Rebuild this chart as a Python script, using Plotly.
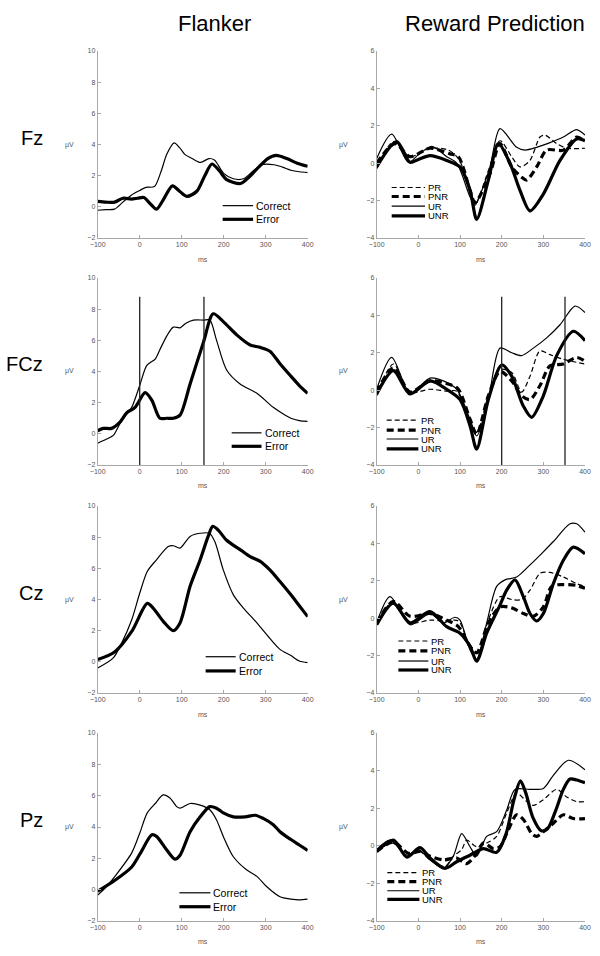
import plotly.graph_objects as go

# ---------------- Flanker (Correct / Error), µV by ms ----------------
fz_correct_t = [-100, -80, -60, -40, -20, 0, 15, 35, 50, 65, 82, 95, 108, 125, 145, 165, 178, 200, 223, 247, 270, 290, 320, 340, 360, 380, 400]
fz_correct_v = [-0.22, -0.18, -0.15, 0.3, 0.75, 1.05, 1.25, 1.3, 2.2, 3.4, 4.1, 3.8, 3.35, 3.1, 2.85, 3.1, 3.0, 2.15, 1.8, 1.8, 2.3, 2.7, 2.7, 2.55, 2.35, 2.25, 2.2]
fz_error_t = [-100, -80, -60, -40, -20, -5, 10, 25, 40, 55, 78, 95, 112, 136, 155, 172, 190, 207, 240, 260, 285, 305, 325, 350, 375, 400]
fz_error_v = [0.35, 0.3, 0.3, 0.55, 0.5, 0.55, 0.6, 0.2, -0.15, 0.4, 1.35, 1.0, 0.67, 1.0, 2.0, 2.75, 2.3, 1.75, 1.5, 1.9, 2.6, 3.1, 3.3, 3.1, 2.8, 2.6]

fcz_correct_t = [-100, -80, -63, -47, -30, -19, 0, 17, 37, 48, 65, 80, 96, 110, 128, 152, 167, 183, 207, 239, 279, 318, 340, 360, 380, 400]
fcz_correct_v = [-0.6, -0.35, -0.1, 0.65, 1.3, 1.7, 3.1, 4.4, 4.8, 5.4, 6.3, 6.85, 6.8, 7.1, 7.3, 7.3, 7.3, 6.0, 4.1, 3.2, 2.6, 1.7, 1.3, 1.0, 0.85, 0.8]
fcz_error_t = [-100, -87, -67, -47, -31, -11, 13, 29, 48, 65, 80, 96, 120, 152, 175, 199, 231, 263, 287, 310, 334, 360, 380, 400]
fcz_error_v = [0.2, 0.35, 0.35, 0.75, 1.35, 1.7, 2.65, 2.15, 1.0, 1.0, 1.0, 1.2, 3.2, 5.9, 7.7, 7.2, 6.35, 5.7, 5.55, 5.3, 4.5, 3.7, 3.1, 2.6]

cz_correct_t = [-100, -63, -43, -19, 0, 18, 40, 68, 80, 96, 120, 144, 166, 179, 199, 223, 247, 279, 310, 334, 360, 380, 400]
cz_correct_v = [-0.4, 0.25, 1.2, 2.7, 4.4, 5.8, 6.55, 7.4, 7.45, 7.3, 8.05, 8.25, 8.25, 7.7, 5.9, 4.3, 3.45, 2.5, 1.5, 0.8, 0.4, 0.05, -0.05]
cz_error_t = [-100, -59, -19, 18, 32, 56, 80, 96, 120, 144, 163, 174, 187, 207, 239, 263, 287, 310, 334, 360, 380, 400]
cz_error_v = [0.15, 0.65, 1.95, 3.75, 3.45, 2.6, 2.0, 2.5, 4.85, 6.55, 8.05, 8.7, 8.45, 7.8, 7.2, 6.75, 6.45, 5.9, 5.15, 4.3, 3.6, 2.9]

pz_correct_t = [-100, -79, -59, -19, 0, 18, 37, 56, 72, 88, 96, 120, 144, 167, 183, 199, 223, 255, 279, 302, 334, 360, 380, 400]
pz_correct_v = [-0.35, 0.2, 0.85, 2.35, 3.6, 4.9, 5.5, 6.05, 5.85, 5.3, 5.2, 5.5, 5.4, 5.1, 4.45, 3.4, 2.1, 1.25, 0.85, 0.2, -0.45, -0.6, -0.65, -0.6]
pz_error_t = [-100, -59, -19, 1, 29, 40, 64, 84, 96, 120, 144, 167, 183, 199, 223, 251, 275, 294, 318, 334, 360, 380, 400]
pz_error_v = [-0.1, 0.6, 1.45, 2.3, 3.5, 3.4, 2.55, 1.95, 2.2, 3.7, 4.65, 5.3, 5.2, 4.9, 4.65, 4.65, 4.75, 4.55, 4.15, 3.7, 3.2, 2.85, 2.5]

# ---------------- Reward Prediction (PR / PNR / UR / UNR) ----------------
rfz_pr_t = [-100, -60, -20, 28, 72, 96, 124, 136, 168, 196, 224, 244, 268, 292, 304, 332, 356, 400]
rfz_pr_v = [-0.3, 1.15, 0.35, 0.8, 0.7, 0.25, -1.3, -2.2, -0.4, 1.2, 0.35, -0.2, 0.15, 1.4, 1.5, 1.05, 0.8, 0.8]
rfz_pnr_t = [-100, -56, -20, 28, 76, 96, 124, 136, 172, 196, 224, 248, 260, 284, 308, 348, 380, 400]
rfz_pnr_v = [0.0, 1.05, 0.35, 0.8, 0.5, 0.35, -1.45, -2.1, -0.55, 1.05, -0.2, -0.75, -0.9, -0.2, 0.7, 0.7, 1.4, 1.15]
rfz_ur_t = [-100, -64, -24, 0, 32, 68, 92, 124, 136, 155, 172, 196, 236, 256, 284, 316, 348, 380, 400]
rfz_ur_v = [0.25, 1.55, 0.05, 0.45, 0.9, 0.35, 0.0, -1.8, -2.25, -1.3, -0.2, 1.85, 0.85, 0.7, 0.85, 1.1, 1.4, 1.8, 1.5]
rfz_unr_t = [-100, -52, -20, 0, 28, 68, 100, 124, 140, 168, 192, 220, 244, 268, 300, 340, 380, 400]
rfz_unr_v = [-0.2, 1.15, 0.05, 0.2, 0.4, 0.15, -0.2, -1.45, -3.0, -0.9, 1.05, 0.0, -1.45, -2.55, -1.65, 0.15, 1.3, 1.2]

rfcz_pr_t = [-100, -60, -20, 28, 68, 92, 124, 140, 168, 196, 224, 248, 268, 292, 316, 348, 400]
rfcz_pr_v = [-0.3, 1.4, -0.1, 0.05, -0.05, -0.05, -1.7, -2.25, -0.3, 1.1, 0.95, -0.1, 0.75, 2.1, 1.9, 1.65, 1.4]
rfcz_pnr_t = [-100, -60, -20, 28, 76, 96, 124, 140, 168, 196, 224, 248, 268, 292, 316, 348, 380, 400]
rfcz_pnr_v = [-0.1, 1.2, -0.1, 0.5, 0.3, 0.05, -1.55, -2.35, -0.3, 1.0, 0.5, -0.3, -0.5, 0.25, 1.3, 1.4, 1.75, 1.55]
rfcz_ur_t = [-100, -64, -20, 28, 60, 92, 124, 140, 168, 196, 224, 248, 276, 308, 340, 376, 400]
rfcz_ur_v = [0.05, 1.75, -0.15, 0.65, 0.5, 0.05, -1.55, -2.45, -0.5, 2.25, 2.0, 1.85, 2.25, 2.8, 3.5, 4.5, 4.15]
rfcz_unr_t = [-100, -60, -20, 28, 68, 100, 124, 140, 168, 200, 224, 252, 272, 300, 332, 372, 400]
rfcz_unr_v = [-0.2, 1.05, -0.2, 0.5, 0.05, -0.5, -1.9, -3.15, -0.5, 1.35, 0.75, -0.85, -1.45, -0.3, 1.85, 3.15, 2.65]

rcz_pr_t = [-100, -64, -20, 28, 60, 96, 124, 144, 168, 196, 224, 248, 268, 292, 316, 348, 380, 400]
rcz_pr_v = [-0.25, 0.8, -0.25, -0.1, -0.15, -0.15, -1.5, -1.85, -0.1, 1.15, 1.0, 1.0, 1.5, 2.4, 2.45, 2.2, 1.85, 1.7]
rcz_pnr_t = [-100, -60, -20, 28, 68, 96, 124, 140, 168, 196, 224, 252, 276, 300, 320, 348, 380, 400]
rcz_pnr_v = [-0.25, 0.9, 0.1, 0.25, -0.1, -0.45, -1.5, -1.85, -0.25, 0.6, 0.55, 0.25, 0.1, 0.6, 1.7, 1.8, 1.75, 1.6]
rcz_ur_t = [-100, -68, -20, 28, 60, 88, 100, 124, 140, 164, 188, 208, 236, 268, 300, 324, 364, 380, 400]
rcz_ur_v = [-0.25, 1.15, -0.35, 0.25, -0.25, 0.05, -0.1, -1.7, -2.2, -0.25, 1.7, 2.05, 2.2, 2.85, 3.55, 4.1, 5.05, 5.05, 4.6]
rcz_unr_t = [-100, -60, -20, 28, 68, 100, 124, 140, 164, 196, 212, 232, 252, 268, 284, 300, 324, 348, 372, 400]
rcz_unr_v = [-0.35, 0.8, -0.25, 0.35, -0.45, -0.8, -1.5, -2.3, -0.8, 0.7, 1.5, 2.05, 1.15, 0.25, -0.15, 0.25, 1.85, 3.1, 3.8, 3.45]

rpz_pr_t = [-100, -64, -24, 4, 28, 64, 84, 104, 116, 140, 164, 188, 212, 236, 260, 276, 300, 332, 356, 380, 400]
rpz_pr_v = [-0.3, 0.15, -0.4, -0.3, -0.75, -1.1, -0.55, -0.2, 0.3, -0.05, 0.15, 0.5, 1.75, 2.8, 2.35, 2.15, 2.45, 3.0, 2.6, 2.35, 2.35]
rpz_pnr_t = [-100, -60, -24, 4, 28, 60, 92, 116, 140, 156, 180, 196, 212, 236, 252, 272, 284, 300, 324, 348, 372, 400]
rpz_pnr_v = [-0.3, 0.2, -0.4, -0.3, -0.55, -0.75, -0.65, -0.95, -0.4, 0.15, -0.15, -0.05, 0.65, 1.65, 1.4, 0.65, 0.5, 0.75, 1.2, 1.65, 1.45, 1.45]
rpz_ur_t = [-100, -68, -28, 0, 28, 60, 84, 104, 124, 140, 164, 188, 212, 232, 268, 300, 324, 360, 400]
rpz_ur_v = [-0.2, 0.3, -0.5, -0.2, -0.75, -1.2, -0.55, 0.65, -0.05, -0.55, 0.5, 0.75, 1.9, 3.0, 3.0, 3.05, 3.75, 4.55, 4.05]
rpz_unr_t = [-100, -60, -28, 4, 28, 64, 92, 124, 156, 188, 210, 230, 245, 258, 275, 295, 310, 330, 348, 364, 380, 400]
rpz_unr_v = [-0.3, 0.3, -0.6, -0.1, -0.65, -1.2, -0.85, -0.5, -0.15, -0.35, 0.6, 2.5, 3.45, 2.8, 1.5, 0.8, 0.9, 1.9, 3.0, 3.55, 3.5, 3.35]

# marker lines in the FCz row (ms)
flanker_marks = [0, 153]
reward_marks = [200, 352]

electrodes = ["Fz", "FCz", "Cz", "Pz"]
flanker_names = ["Correct", "Error"]
reward_names = ["PR", "PNR", "UR", "UNR"]

flanker_data = [
    [(fz_correct_t, fz_correct_v), (fz_error_t, fz_error_v)],
    [(fcz_correct_t, fcz_correct_v), (fcz_error_t, fcz_error_v)],
    [(cz_correct_t, cz_correct_v), (cz_error_t, cz_error_v)],
    [(pz_correct_t, pz_correct_v), (pz_error_t, pz_error_v)],
]
reward_data = [
    [(rfz_pr_t, rfz_pr_v), (rfz_pnr_t, rfz_pnr_v), (rfz_ur_t, rfz_ur_v), (rfz_unr_t, rfz_unr_v)],
    [(rfcz_pr_t, rfcz_pr_v), (rfcz_pnr_t, rfcz_pnr_v), (rfcz_ur_t, rfcz_ur_v), (rfcz_unr_t, rfcz_unr_v)],
    [(rcz_pr_t, rcz_pr_v), (rcz_pnr_t, rcz_pnr_v), (rcz_ur_t, rcz_ur_v), (rcz_unr_t, rcz_unr_v)],
    [(rpz_pr_t, rpz_pr_v), (rpz_pnr_t, rpz_pnr_v), (rpz_ur_t, rpz_ur_v), (rpz_unr_t, rpz_unr_v)],
]

# styles
W, H = 600, 956
FONT = "Liberation Sans"
flanker_styles = [dict(width=1.2, dash="solid"), dict(width=3.2, dash="solid")]
reward_styles = [dict(width=1.2, dash="5px,3px"), dict(width=3.2, dash="7px,4px"),
                 dict(width=1.2, dash="solid"), dict(width=3.2, dash="solid")]

col_x = [(97.7, 307.7), (376.7, 585.0)]
row_y = [(51, 238), (278, 465), (506, 693), (733, 921)]

# legend placement in axis-domain units: (x0, x1, [y per entry])
flanker_leg = [(0.595, 0.74, [0.173, 0.10]), (0.638, 0.78, [0.172, 0.10]),
               (0.514, 0.657, [0.194, 0.118]), (0.389, 0.537, [0.15, 0.076])]
reward_leg = [(0.072, 0.232, [0.27, 0.222, 0.17, 0.118]), (0.048, 0.20, [0.24, 0.187, 0.139, 0.086]),
              (0.104, 0.248, [0.278, 0.225, 0.171, 0.123]), (0.051, 0.205, [0.257, 0.209, 0.161, 0.115])]

fig = go.Figure()
layout = {}
shapes = []
annotations = []

for r in range(4):
    for c in range(2):
        n = r * 2 + c + 1
        xa = "x" if n == 1 else f"x{n}"
        ya = "y" if n == 1 else f"y{n}"
        x0, x1 = col_x[c]
        top, bot = row_y[r]
        yr = [-2, 10] if c == 0 else [-4, 6]
        axis_common = dict(showline=True, linecolor="#a8a8a8", linewidth=1, ticks="inside", ticklen=3,
                           tickcolor="#a8a8a8", showgrid=False, zeroline=False, automargin=False,
                           tickfont=dict(size=7, color="#555", family=FONT))
        layout["xaxis" if n == 1 else f"xaxis{n}"] = dict(
            domain=[x0 / W, x1 / W], range=[-100, 400], tickvals=[-100, 0, 100, 200, 300, 400],
            anchor=ya, **axis_common)
        layout["yaxis" if n == 1 else f"yaxis{n}"] = dict(
            domain=[1 - bot / H, 1 - top / H], range=yr, tick0=0, dtick=2, anchor=xa, **axis_common)

        if c == 0:
            series, names, styles, leg = flanker_data[r], flanker_names, flanker_styles, flanker_leg[r]
        else:
            series, names, styles, leg = reward_data[r], reward_names, reward_styles, reward_leg[r]

        for (t, v), name, st in zip(series, names, styles):
            fig.add_trace(go.Scatter(x=t, y=v, mode="lines", name=name, showlegend=False,
                                     line=dict(color="black", width=st["width"], dash=st["dash"],
                                               shape="spline", smoothing=0.8),
                                     xaxis=xa, yaxis=ya))

        # legend samples
        lx0, lx1, lys = leg
        fsize = 10.5 if c == 0 else 9.5
        for name, st, ly in zip(names, styles, lys):
            shapes.append(dict(type="line", xref=f"{xa} domain", yref=f"{ya} domain",
                               x0=lx0, x1=lx1, y0=ly, y1=ly,
                               line=dict(color="black", width=st["width"], dash=st["dash"])))
            annotations.append(dict(text=name, xref=f"{xa} domain", yref=f"{ya} domain",
                                    x=lx1, y=ly, xanchor="left", yanchor="middle", xshift=2, borderpad=0,
                                    showarrow=False, font=dict(size=fsize, color="black", family=FONT)))

        # axis labels
        annotations.append(dict(text="ms", xref=f"{xa} domain", yref=f"{ya} domain", x=0.5, y=0,
                                xanchor="center", yanchor="middle", yshift=-21, showarrow=False,
                                font=dict(size=7, color="#555", family=FONT)))
        mu_x = 69 if c == 0 else 343.5
        annotations.append(dict(text="µV", xref="paper", yref=f"{ya} domain", x=mu_x / W, y=0.5,
                                xanchor="center", yanchor="middle", showarrow=False,
                                font=dict(size=7, color="#555", family=FONT)))

        # FCz marker lines
        if r == 1:
            marks = flanker_marks if c == 0 else reward_marks
            ytop = 8.8 if c == 0 else 5.0
            for m in marks:
                shapes.append(dict(type="line", xref=xa, yref=ya, x0=m, x1=m, y0=yr[0], y1=ytop,
                                   line=dict(color="#222", width=1.3)))

    # row label
    top, bot = row_y[r]
    annotations.append(dict(text=electrodes[r], xref="paper", yref="paper", x=45 / W,
                            y=1 - ((top + bot) / 2 - 7) / H, xanchor="right", yanchor="middle",
                            showarrow=False, font=dict(size=20, color="black", family=FONT)))

# column titles
annotations.append(dict(text="Flanker", xref="paper", yref="paper", x=214 / W, y=1 - 23.5 / H,
                        xanchor="center", yanchor="middle", showarrow=False,
                        font=dict(size=22, color="black", family=FONT)))
annotations.append(dict(text="Reward Prediction", xref="paper", yref="paper", x=495 / W, y=1 - 23.5 / H,
                        xanchor="center", yanchor="middle", showarrow=False,
                        font=dict(size=22, color="black", family=FONT)))

fig.update_layout(template="none", width=W, height=H, margin=dict(l=0, r=0, t=0, b=0),
                  plot_bgcolor="white", paper_bgcolor="white", showlegend=False,
                  shapes=shapes, annotations=annotations, **layout)

# drop the page's default body margin so the 600x956 figure sits at the window origin
fig.write_html("out.html", config={"displayModeBar": False},
               post_script="document.body.style.margin='0';")
